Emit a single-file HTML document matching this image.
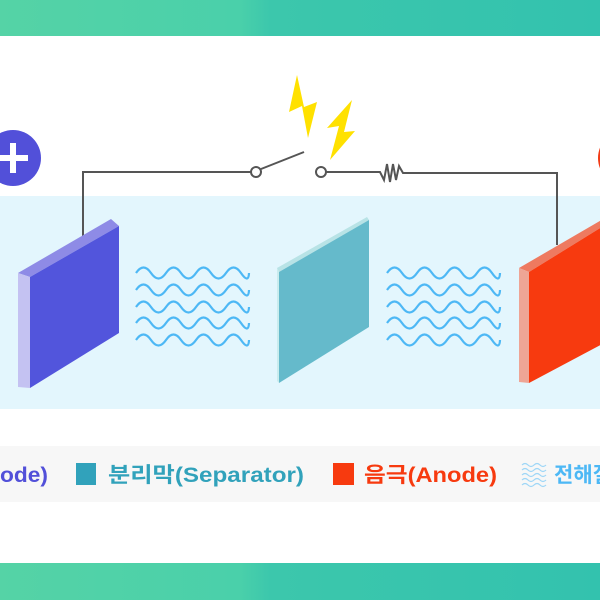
<!DOCTYPE html>
<html><head><meta charset="utf-8"><style>
html,body{margin:0;padding:0;width:600px;height:600px;overflow:hidden;background:#fff}
svg{display:block}
text{font-family:"Liberation Sans","Noto Sans CJK KR","NanumGothic",sans-serif;font-weight:bold;font-size:21px}
</style></head><body>
<svg width="600" height="600" viewBox="0 0 600 600" xmlns="http://www.w3.org/2000/svg">
<defs>
<linearGradient id="g" x1="0" y1="0" x2="1" y2="0">
<stop offset="0" stop-color="#55d3a6"/><stop offset="0.4" stop-color="#4ad0aa"/><stop offset="0.45" stop-color="#3cc7ac"/><stop offset="1" stop-color="#33c2ae"/>
</linearGradient>
<path id="w" d="M0 1 q7.5 -11 15 0 t15 0 t15 0 t15 0 t15 0 t15 0 t15 0 t8 0" fill="none" stroke="#4db8f5" stroke-width="2.2"/>
</defs>
<rect x="0" y="0" width="600" height="36" fill="url(#g)"/>
<rect x="0" y="563" width="600" height="37" fill="url(#g)"/>
<rect x="0" y="196" width="600" height="213" fill="#e3f6fd"/>
<rect x="0" y="446" width="600" height="56" fill="#f7f7f7"/>

<g fill="none" stroke="#555" stroke-width="2">
<polyline points="83,238 83,172 252,172"/>
<circle cx="256" cy="172" r="5" fill="#fff"/>
<line x1="261" y1="169" x2="304" y2="152"/>
<circle cx="321" cy="172" r="5" fill="#fff"/>
<polyline points="326,172 380,172 384,180 387,164 390,182 393,164 396,180 399,166 403,173 557,173 557,245"/>
</g>
<polygon points="297,75 289,112 302,106 308,138 317,102 304,107" fill="#ffe100"/>
<polygon points="352,100 327,128 339,126 330,160 355,131 344,132" fill="#ffe100"/>

<circle cx="13" cy="158" r="28" fill="#5250d9"/>
<rect x="-2" y="155" width="30" height="6" fill="#fff"/>
<rect x="10" y="143" width="6" height="30" fill="#fff"/>
<circle cx="626" cy="158" r="28" fill="#f23b16"/>

<polygon points="18,273 111,219 119,226 30,277" fill="#8e8be6"/>
<polygon points="18,273 30,277 30,388 18,387" fill="#c4c2f2"/>
<polygon points="30,277 119,226 119,333 30,388" fill="#5255dc"/>
<polygon points="277,268 367,217 369,220 279,272" fill="#b8e3e6"/>
<polygon points="277,268 279,272 279,383 277,381" fill="#c9ecee"/>
<polygon points="279,272 369,220 369,327 279,383" fill="#65bacb"/>
<polygon points="519,268 610,215 610,222 529,272" fill="#ee7a60"/>
<polygon points="519,268 529,272 529,383 519,382" fill="#eea595"/>
<polygon points="529,272 610,222 610,340 529,383" fill="#f73a0f"/>

<g>
<use href="#w" x="136" y="272"/><use href="#w" x="136" y="289"/><use href="#w" x="136" y="306"/><use href="#w" x="136" y="322"/><use href="#w" x="136" y="339"/>
<use href="#w" x="387" y="272"/><use href="#w" x="387" y="289"/><use href="#w" x="387" y="306"/><use href="#w" x="387" y="322"/><use href="#w" x="387" y="339"/>
</g>

<text x="0" y="482" fill="#5250d9" textLength="48" lengthAdjust="spacingAndGlyphs">ode)</text>
<rect x="76" y="463" width="20" height="22" fill="#31a2bb"/>
<text x="108" y="482" fill="#31a2bb" textLength="196" lengthAdjust="spacingAndGlyphs">분리막(Separator)</text>
<rect x="333" y="463" width="21" height="22" fill="#f73a0f"/>
<text x="364" y="482" fill="#f73a0f" textLength="133" lengthAdjust="spacingAndGlyphs">음극(Anode)</text>
<g fill="none" stroke="#9dd6f7" stroke-width="1.2">
<path d="M522 465 q3 -3 6 0 t6 0 t6 0 t6 0"/><path d="M522 470 q3 -3 6 0 t6 0 t6 0 t6 0"/><path d="M522 475 q3 -3 6 0 t6 0 t6 0 t6 0"/><path d="M522 480 q3 -3 6 0 t6 0 t6 0 t6 0"/><path d="M522 485 q3 -3 6 0 t6 0 t6 0 t6 0"/>
</g>
<text x="554" y="482" fill="#4db8f5">전해질</text>
</svg>
</body></html>
